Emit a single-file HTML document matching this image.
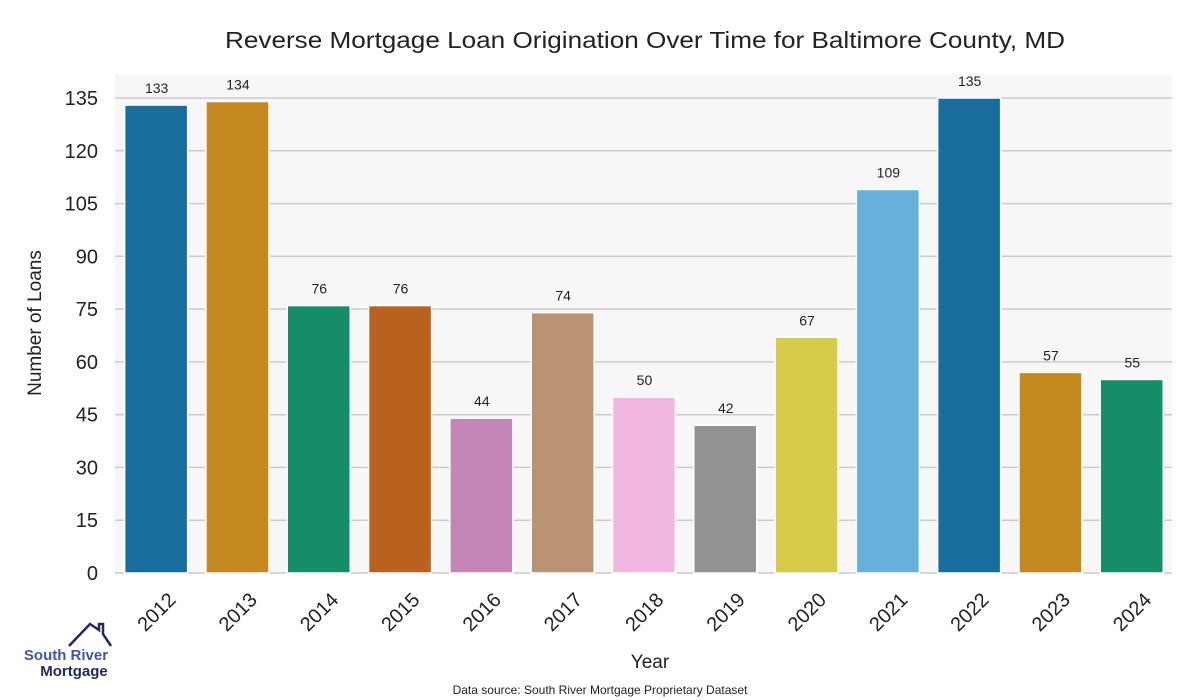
<!DOCTYPE html>
<html><head><meta charset="utf-8"><style>body{margin:0;background:#fff}svg{display:block;font-family:"Liberation Sans",sans-serif}</style></head>
<body>
<svg width="1200" height="700" xmlns="http://www.w3.org/2000/svg">
<rect width="1200" height="700" fill="#fff"/>
<rect x="115" y="74" width="1057" height="499" fill="#f7f7f7"/>
<g stroke="#cccccc" stroke-width="1.5">
<line x1="115" x2="1172" y1="573" y2="573"/>
<line x1="115" x2="1172" y1="520.2" y2="520.2"/>
<line x1="115" x2="1172" y1="467.4" y2="467.4"/>
<line x1="115" x2="1172" y1="414.7" y2="414.7"/>
<line x1="115" x2="1172" y1="361.9" y2="361.9"/>
<line x1="115" x2="1172" y1="309.1" y2="309.1"/>
<line x1="115" x2="1172" y1="256.3" y2="256.3"/>
<line x1="115" x2="1172" y1="203.6" y2="203.6"/>
<line x1="115" x2="1172" y1="150.8" y2="150.8"/>
<line x1="115" x2="1172" y1="98" y2="98"/>
</g>
<g font-size="20" text-anchor="end" fill="#222">
<text x="98" y="580">0</text>
<text x="98" y="527.2">15</text>
<text x="98" y="474.4">30</text>
<text x="98" y="421.7">45</text>
<text x="98" y="368.9">60</text>
<text x="98" y="316.1">75</text>
<text x="98" y="263.3">90</text>
<text x="98" y="210.6">105</text>
<text x="98" y="157.8">120</text>
<text x="98" y="105">135</text>
</g>
<g stroke="#fff" stroke-width="1.5">
<rect x="124.65" y="105.04" width="63" height="467.96" fill="#176e9e"/>
<rect x="205.95" y="101.52" width="63" height="471.48" fill="#c38820"/>
<rect x="287.25" y="305.59" width="63" height="267.41" fill="#168d69"/>
<rect x="368.55" y="305.59" width="63" height="267.41" fill="#b9611d"/>
<rect x="449.85" y="418.19" width="63" height="154.81" fill="#c384b6"/>
<rect x="531.15" y="312.63" width="63" height="260.37" fill="#bb9272"/>
<rect x="612.45" y="397.08" width="63" height="175.92" fill="#f0b8e0"/>
<rect x="693.75" y="425.22" width="63" height="147.78" fill="#939393"/>
<rect x="775.05" y="337.26" width="63" height="235.74" fill="#d6cc4a"/>
<rect x="856.35" y="189.48" width="63" height="383.52" fill="#66b0dc"/>
<rect x="937.65" y="98" width="63" height="475" fill="#176e9e"/>
<rect x="1018.95" y="372.45" width="63" height="200.55" fill="#c38820"/>
<rect x="1100.25" y="379.48" width="63" height="193.52" fill="#168d69"/>
</g>
<g font-size="14" text-anchor="middle" fill="#222">
<text x="156.65" y="93">133</text>
<text x="237.95" y="89.5">134</text>
<text x="319.25" y="293.6">76</text>
<text x="400.55" y="293.6">76</text>
<text x="481.85" y="406.2">44</text>
<text x="563.15" y="300.6">74</text>
<text x="644.45" y="385.1">50</text>
<text x="725.75" y="413.2">42</text>
<text x="807.05" y="325.3">67</text>
<text x="888.35" y="177.5">109</text>
<text x="969.65" y="86">135</text>
<text x="1050.95" y="360.5">57</text>
<text x="1132.25" y="367.5">55</text>
</g>
<g font-size="20" text-anchor="end" fill="#222">
<text transform="translate(177,601) rotate(-45)">2012</text>
<text transform="translate(258.3,601) rotate(-45)">2013</text>
<text transform="translate(339.6,601) rotate(-45)">2014</text>
<text transform="translate(420.9,601) rotate(-45)">2015</text>
<text transform="translate(502.2,601) rotate(-45)">2016</text>
<text transform="translate(583.5,601) rotate(-45)">2017</text>
<text transform="translate(664.8,601) rotate(-45)">2018</text>
<text transform="translate(746.1,601) rotate(-45)">2019</text>
<text transform="translate(827.4,601) rotate(-45)">2020</text>
<text transform="translate(908.7,601) rotate(-45)">2021</text>
<text transform="translate(990,601) rotate(-45)">2022</text>
<text transform="translate(1071.3,601) rotate(-45)">2023</text>
<text transform="translate(1152.6,601) rotate(-45)">2024</text>
</g>
<text x="645" y="48" font-size="23" text-anchor="middle" fill="#222" textLength="840" lengthAdjust="spacingAndGlyphs">Reverse Mortgage Loan Origination Over Time for Baltimore County, MD</text>
<text x="650" y="668" font-size="19" text-anchor="middle" fill="#222">Year</text>
<text transform="translate(41,323) rotate(-90)" font-size="19" text-anchor="middle" fill="#222">Number of Loans</text>
<text x="600" y="694" font-size="12" text-anchor="middle" fill="#222">Data source: South River Mortgage Proprietary Dataset</text>
<polyline points="69,646 90,624 99,630 99,624 103,624 103,634 111,646" fill="none" stroke="#23295e" stroke-width="2.5"/>
<text x="66" y="660" font-size="15" font-weight="bold" text-anchor="middle" fill="#4256a8">South River</text>
<text x="74" y="676" font-size="15" font-weight="bold" text-anchor="middle" fill="#23295e">Mortgage</text>
</svg>
</body></html>
